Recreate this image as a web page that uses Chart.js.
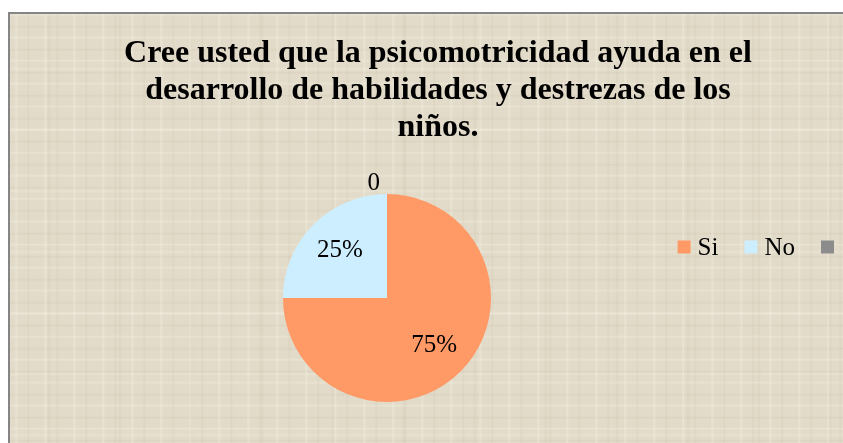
<!DOCTYPE html>
<html>
<head>
<meta charset="utf-8">
<script src="https://cdn.jsdelivr.net/npm/chart.js@4/dist/chart.umd.min.js"></script>
<style>
  html, body { margin: 0; padding: 0; width: 843px; height: 443px; overflow: hidden; background: #ffffff; }
  #frame {
    position: absolute; left: 8px; top: 12px; width: 856px; height: 466px;
    border: 2px solid #858585;
    background-color: #e2dbc9;
    background-image:
      repeating-linear-gradient(90deg, rgba(255,255,255,0) 0px, rgba(255,255,255,0) 5px, rgba(248,244,233,0.4) 6px, rgba(255,255,255,0) 8px, rgba(255,255,255,0) 17px, rgba(190,178,150,0.16) 18px, rgba(255,255,255,0) 20px, rgba(255,255,255,0) 29px),
      repeating-linear-gradient(0deg, rgba(255,255,255,0) 0px, rgba(255,255,255,0) 4px, rgba(248,244,233,0.35) 5px, rgba(255,255,255,0) 7px, rgba(255,255,255,0) 15px, rgba(185,172,145,0.16) 16px, rgba(255,255,255,0) 18px, rgba(255,255,255,0) 23px),
      repeating-linear-gradient(90deg, rgba(255,255,255,0) 0px, rgba(255,255,255,0) 37px, rgba(200,188,160,0.2) 39px, rgba(255,255,255,0) 41px, rgba(255,255,255,0) 71px),
      repeating-linear-gradient(0deg, rgba(255,255,255,0) 0px, rgba(255,255,255,0) 43px, rgba(245,240,228,0.3) 45px, rgba(255,255,255,0) 47px, rgba(255,255,255,0) 61px);
  }
  #chart { position: absolute; left: 0; top: 0; }
</style>
</head>
<body>
<div id="frame"><canvas id="chart" width="856" height="466"></canvas></div>
<script>
// ---- data ----
const categories = ['Si', 'No', ''];
const values = [75, 25, 0];
const valueLabels = ['75%', '25%', '0'];
const sliceColors = ['#ff9966', '#cceeff', '#8c8c8c'];
const titleLines = [
  'Cree usted que la psicomotricidad ayuda en el',
  'desarrollo de habilidades y destrezas de los',
  'niños.'
];

const SERIF = '"Liberation Serif", "Times New Roman", serif';
const LEGEND_SPACE = 102;

// reserve space on the right (legend column) through the layout system
const sideSpace = {
  id: 'sideSpace',
  beforeInit(chart) {
    const box = {
      position: 'right', weight: 100, fullSize: false,
      options: {},
      left: 0, top: 0, right: 0, bottom: 0, width: 0, height: 0,
      isHorizontal() { return false; },
      update(maxWidth, maxHeight) {
        this.width = LEGEND_SPACE; this.height = maxHeight;
        return { width: this.width, height: this.height };
      },
      draw() {}
    };
    Chart.layouts.addBox(chart, box);
  }
};

// data labels on/around slices
const sliceLabels = {
  id: 'sliceLabels',
  afterDatasetsDraw(chart) {
    const ctx = chart.ctx;
    const meta = chart.getDatasetMeta(0);
    ctx.save();
    ctx.font = '25px ' + SERIF;
    ctx.fillStyle = '#000';
    ctx.textBaseline = 'middle';
    meta.data.forEach((arc, i) => {
      const p = arc.getProps(['x', 'y', 'startAngle', 'endAngle', 'outerRadius'], true);
      const mid = (p.startAngle + p.endAngle) / 2;
      if (values[i] === 0) {
        const r = p.outerRadius + 11;
        ctx.textAlign = 'right';
        ctx.fillText(valueLabels[i], p.x + Math.cos(mid) * r - 7, p.y + Math.sin(mid) * r);
      } else {
        const r = p.outerRadius * 0.64;
        ctx.textAlign = 'center';
        ctx.fillText(valueLabels[i], p.x + Math.cos(mid) * r, p.y + Math.sin(mid) * r);
      }
    });
    ctx.restore();
  }
};

// horizontal legend at the right, vertically centred in the chart
const rowLegend = {
  id: 'rowLegend',
  afterDraw(chart) {
    const ctx = chart.ctx;
    ctx.save();
    ctx.font = '25px ' + SERIF;
    ctx.textBaseline = 'middle';
    const box = 13, gapText = 7, gapItem = 26;
    const widths = categories.map(c => c ? ctx.measureText(c).width : 0);
    let total = 0;
    categories.forEach((c, i) => {
      total += box + (c ? gapText + widths[i] : 0);
      if (i < categories.length - 1) total += gapItem;
    });
    let x = chart.width - 32 - total;
    const cy = chart.height / 2;
    categories.forEach((c, i) => {
      ctx.fillStyle = sliceColors[i];
      ctx.fillRect(x, cy - 6.5, box, box);
      x += box;
      if (c) {
        x += gapText;
        ctx.fillStyle = '#000';
        ctx.textAlign = 'left';
        ctx.fillText(c, x, cy + 1);
        x += widths[i];
      }
      x += gapItem;
    });
    ctx.restore();
  }
};

new Chart(document.getElementById('chart'), {
  type: 'pie',
  data: {
    labels: categories,
    datasets: [{
      data: values,
      backgroundColor: sliceColors,
      borderWidth: 0
    }]
  },
  options: {
    responsive: false,
    animation: false,
    events: [],
    layout: { padding: { left: 0, right: 0, top: 0, bottom: 78 } },
    plugins: {
      legend: { display: false },
      tooltip: { enabled: false },
      title: {
        display: true,
        text: titleLines,
        color: '#000',
        font: { family: SERIF, size: 32, weight: 'bold', lineHeight: 37 / 32 },
        padding: { top: 21.5, bottom: 47.5 }
      }
    }
  },
  plugins: [sideSpace, sliceLabels, rowLegend]
});
</script>
</body>
</html>
